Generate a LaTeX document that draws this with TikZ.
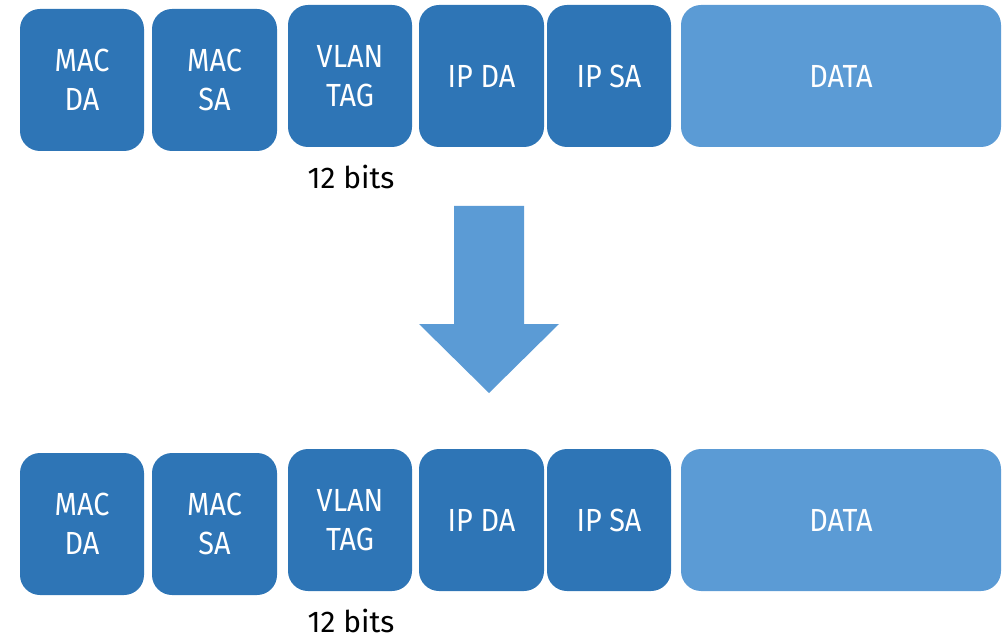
\documentclass[tikz,border=0pt]{standalone}
\usepackage{fontspec}
\setmainfont{Fira Sans}[FakeStretch=0.9]
\newfontfamily\notefont{Fira Sans}
\definecolor{fieldblue}{HTML}{2E75B6}
\definecolor{datablue}{HTML}{5B9BD5}
\begin{document}
\begin{tikzpicture}[x=1pt,y=-1pt,
  field/.style={fill=fieldblue, rounded corners=20pt, inner sep=0pt,
    text=white, align=center, font=\fontsize{32}{39}\selectfont,
    minimum height=142pt},
  datafield/.style={field, fill=datablue},
  note/.style={font=\notefont\fontsize{30}{36}\selectfont, text=black,
    inner sep=1pt}]
  \useasboundingbox (0,0) rectangle (1002,639);
  % two copies of the same frame layout, one above the other
  \foreach \dy/\n in {0/top,444/bot}{
    \node[field, minimum width=124pt] (macda-\n) at (82,80+\dy) {MAC\\DA};
    \node[field, minimum width=125pt] (macsa-\n) at (214.5,80+\dy) {MAC\\SA};
    \node[field, minimum width=124pt] (vlan-\n) at (350,76+\dy) {VLAN\\TAG};
    \node[field, minimum width=125pt] (ipda-\n) at (481.5,76+\dy) {IP DA};
    \node[field, minimum width=124pt] (ipsa-\n) at (609,76+\dy) {IP SA};
    \node[datafield, minimum width=320pt] (data-\n) at (841,76+\dy) {DATA};
    \node[note] (bits-\n) at (351,177+\dy) {12 bits};
  }
  % block arrow between the two frames
  \fill[datablue] (454,206) -- (524,206) -- (524,324) -- (559,324)
    -- (489,393) -- (419,324) -- (454,324) -- cycle;
\end{tikzpicture}
\end{document}
